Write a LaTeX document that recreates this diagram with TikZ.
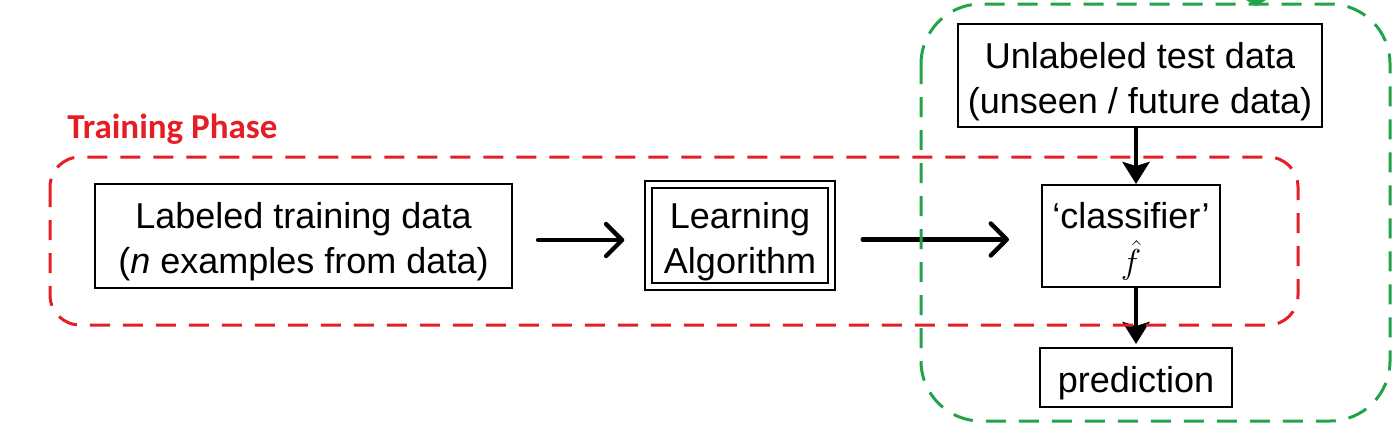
\documentclass[tikz,border=0pt]{standalone}
\usepackage{fontspec}
\setmainfont{Liberation Sans}
\newfontfamily\calib{Carlito}
\usetikzlibrary{arrows.meta}
\definecolor{phred}{RGB}{228,30,36}
\definecolor{phgreen}{RGB}{34,163,74}
\newcommand{\lowstrut}{\rule{0pt}{18.8pt}}
\begin{document}
\begin{tikzpicture}[x=0.5pt,y=-0.5pt,
  box/.style={draw, line width=1pt, align=center, inner sep=0pt, fill=white,
    font=\fontsize{18}{22.5}\selectfont},
  harr/.style={line width=2.2pt, line cap=round,
    -{Straight Barb[length=8pt,width=16pt,line cap=round,line join=round]}},
  varr/.style={line width=2.2pt, -{Stealth[length=11pt,width=13.5pt,inset=2pt]}},
  phase/.style={line width=1.5pt, dash pattern=on 10pt off 6.5pt}]
\useasboundingbox (0,0) rectangle (1400,429);
\node[box, minimum width=208.5pt, minimum height=52pt] (lab) at (303.5,236)
  {\lowstrut Labeled training data\\(\textit{n} examples from data)};
\node[box, double, double distance=2.3pt, line width=1.2pt,
  minimum width=91.5pt, minimum height=51pt] (learn) at (740,235.5)
  {\lowstrut Learning\\Algorithm};
\node[box, minimum width=182pt, minimum height=51.5pt] (unl) at (1140,75.5)
  {\lowstrut Unlabeled test data\\(unseen / future data)};
\node[box, minimum width=89pt, minimum height=51pt] (cls) at (1131,236)
  {\lowstrut ‘classifier’\\$\hat{f}$};
\node[box, minimum width=96pt, minimum height=29.5pt] (pred) at (1136,377.5)
  {\lowstrut prediction};
\node[anchor=base west, inner sep=0pt, text=phred,
  font=\calib\bfseries\fontsize{17.5}{21}\selectfont] (tp) at (67,138) {Training Phase};
\draw[harr, shorten <=12.5pt, shorten >=11.5pt]
  ([yshift=-2pt]lab.east) -- ([yshift=-2pt]lab.east -| learn.west);
\draw[harr, shorten <=15pt, shorten >=16pt]
  ([yshift=-2pt]learn.east) -- ([yshift=-2pt]learn.east -| cls.west);
\draw[varr] (unl.south -| pred.center) -- (cls.north -| pred.center);
\draw[varr, shorten >=1.5pt] (cls.south -| pred.center) -- (pred.north);
\draw[phase, phred, rounded corners=15pt] (50,157) rectangle (1298,325);
\draw[phase, phgreen, rounded corners=30pt] (921,4) rectangle (1390,421);
\fill[phgreen] (1246,0) -- (1266,0) -- (1256,6) -- cycle;
\end{tikzpicture}
\end{document}
